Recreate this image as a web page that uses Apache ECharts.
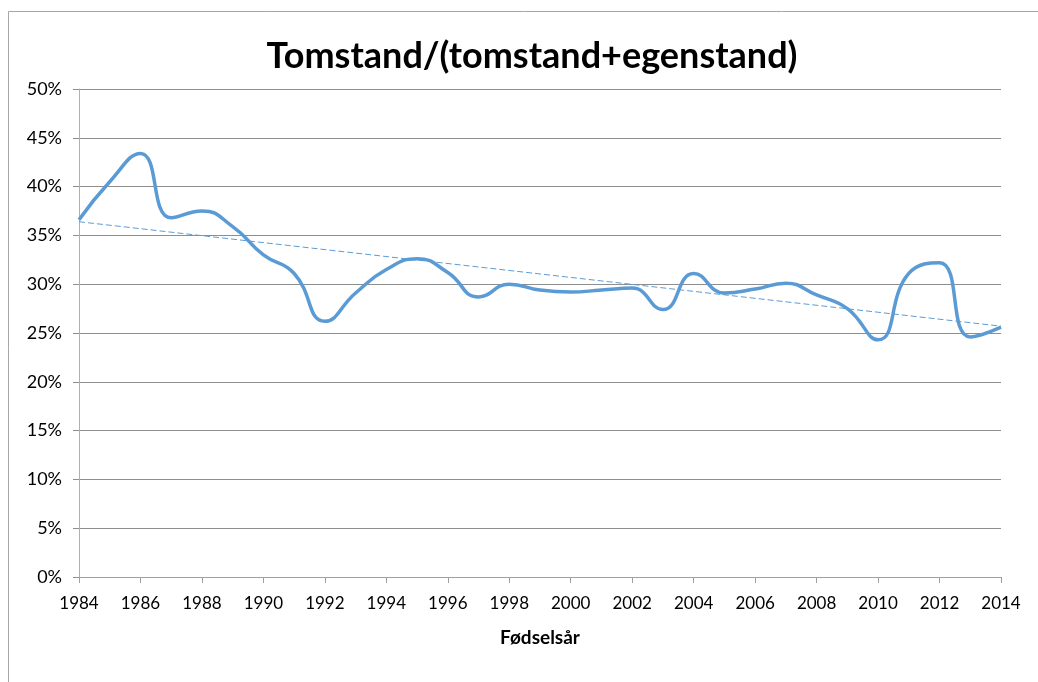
<!DOCTYPE html>
<html>
<head>
<meta charset="utf-8">
<script src="https://cdn.jsdelivr.net/npm/echarts@6/dist/echarts.min.js"></script>
<style>
  html, body { margin: 0; padding: 0; background: #fff; }
  #chart { width: 1038px; height: 682px; }
</style>
</head>
<body>
<div id="chart"></div>
<script>
// Fødselsår 1984..2014, andel i prosent (lest av bildet)
const years = [1984, 1985, 1986, 1987, 1988, 1989, 1990, 1991, 1992, 1993,
  1994, 1995, 1996, 1997, 1998, 1999, 2000, 2001, 2002, 2003,
  2004, 2005, 2006, 2007, 2008, 2009, 2010, 2011, 2012, 2013, 2014];
const shares = [36.6, 40.5, 43.4, 36.8, 37.5, 35.9, 33.0, 31.1, 26.2, 29.1,
  31.5, 32.6, 31.2, 28.7, 30.0, 29.4, 29.2, 29.4, 29.6, 27.4,
  31.1, 29.1, 29.5, 30.1, 28.9, 27.5, 24.3, 31.1, 32.2, 24.6, 25.6];
// lineær trendlinje, endepunkter lest av bildet
const trendYears = [1984, 2014];
const trendValues = [36.4, 25.7];

const font = "Lato, 'Open Sans', sans-serif";
const blue = "#5b9bd5";

const chart = echarts.init(document.getElementById("chart"));

chart.setOption({
  animation: false,
  title: {
    text: "Tomstand/(tomstand+egenstand)",
    left: 527,
    top: 33,
    textAlign: "center",
    textStyle: { fontFamily: font, fontWeight: "bold", fontSize: 36, color: "#000" },
  },
  graphic: [
    {
      type: "rect",
      shape: { x: 8.5, y: 11.5, width: 1100, height: 700 },
      style: { fill: "none", stroke: "#a6a6a6", lineWidth: 1 },
      silent: true,
    },
  ],
  grid: { left: 79, right: 37, top: 89, bottom: 105 },
  xAxis: {
    type: "value",
    min: 1984,
    max: 2014,
    interval: 2,
    name: "Fødselsår",
    nameLocation: "middle",
    nameGap: 51,
    nameTextStyle: { fontFamily: font, fontWeight: "bold", fontSize: 19, color: "#000" },
    axisLine: { lineStyle: { color: "#a0a0a0", width: 1 } },
    axisTick: { show: true, length: 6, lineStyle: { color: "#a0a0a0" } },
    axisLabel: {
      margin: 18,
      fontFamily: font,
      fontSize: 17,
      color: "#000",
      formatter: (v) => String(v),
    },
    splitLine: { show: false },
  },
  yAxis: {
    type: "value",
    min: 0,
    max: 50,
    interval: 5,
    axisLine: { show: true, lineStyle: { color: "#b0b0b0", width: 1 } },
    axisTick: { show: true, length: 6, lineStyle: { color: "#8e8e8e" } },
    axisLabel: {
      margin: 17,
      fontFamily: font,
      fontSize: 18,
      color: "#000",
      formatter: (v) => v + "%",
    },
    splitLine: { show: true, lineStyle: { color: "#8e8e8e", width: 1 } },
  },
  series: [
    {
      type: "line",
      data: years.map((y, i) => [y, shares[i]]),
      smooth: 0.5,
      showSymbol: false,
      lineStyle: { color: blue, width: 3.5 },
      z: 3,
    },
    {
      type: "line",
      data: trendYears.map((y, i) => [y, trendValues[i]]),
      showSymbol: false,
      lineStyle: { color: blue, width: 1, type: [6, 3] },
      z: 2,
    },
  ],
});
</script>
</body>
</html>
